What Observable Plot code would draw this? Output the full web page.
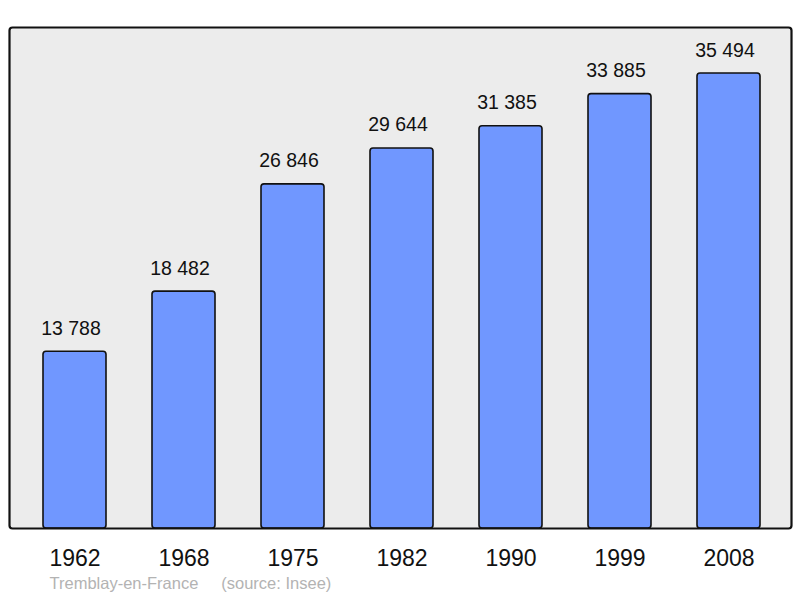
<!DOCTYPE html>
<html>
<head>
<meta charset="utf-8">
<script src="https://cdn.jsdelivr.net/npm/d3@7"></script>
<script src="https://cdn.jsdelivr.net/npm/@observablehq/plot@0.6"></script>
<style>
  html, body { margin: 0; padding: 0; background: #ffffff; }
  #chart svg { display: block; }
</style>
</head>
<body>
<div id="chart"></div>
<script>
const years = ["1962", "1968", "1975", "1982", "1990", "1999", "2008"];
const population = [13788, 18482, 26846, 29644, 31385, 33885, 35494];
const captionText = "Tremblay-en-France\u00a0\u00a0\u00a0\u00a0\u00a0(source: Insee)";

const data = years.map((y, i) => ({year: y, pop: population[i]}));
const fmt = d3.formatLocale({thousands: "\u00a0", grouping: [3], decimal: ","}).format(",d");

const font = "'Liberation Sans', Arial, sans-serif";

const chart = Plot.plot({
  width: 800,
  height: 598,
  marginTop: 27,
  marginBottom: 70,
  marginLeft: 9,
  marginRight: 9,
  style: {fontFamily: font, background: "#ffffff", overflow: "visible"},
  x: {domain: years, range: [42, 761], paddingInner: 0.424, paddingOuter: 0, label: null},
  y: {domain: [0, 39083], axis: null},
  marks: [
    Plot.frame({fill: "#ececec", stroke: null, rx: 3}),
    Plot.barY(data, {x: "year", y: "pop", fill: "#7097ff", stroke: "#111", strokeWidth: 1.6, rx: 3}),
    Plot.text(data, {x: "year", y: "pop", text: d => fmt(d.pop), lineAnchor: "bottom", dx: -4, dy: -17, fontSize: 19.5, fill: "#111"}),
    Plot.frame({fill: "none", stroke: "#111", strokeWidth: 2.2, rx: 3}),
    Plot.axisX({tickSize: 0, tickPadding: 21, fontSize: 23, fill: "#111", label: null}),
    Plot.text([captionText], {frameAnchor: "bottom-left", text: d => d, textAnchor: "start", lineAnchor: "bottom", dx: 40, dy: 60, fontSize: 16.5, fill: "#b3b3b3"})
  ]
});
document.getElementById("chart").appendChild(chart);
</script>
</body>
</html>
